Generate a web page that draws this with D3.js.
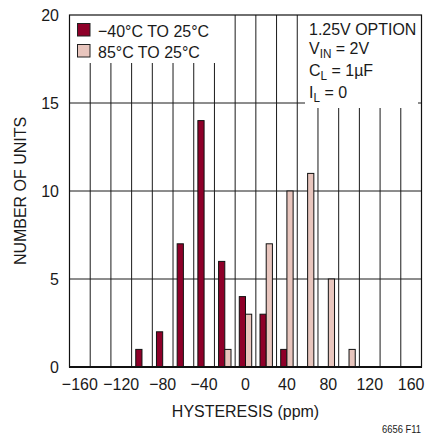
<!DOCTYPE html>
<html>
<head>
<meta charset="utf-8">
<script src="https://cdn.jsdelivr.net/npm/d3@7"></script>
<style>
html,body{margin:0;padding:0;background:#fff;}
svg{display:block;}
text{font-family:"Liberation Sans",Arial,Helvetica,sans-serif;fill:#1a1a1a;}
</style>
</head>
<body>
<div id="chart"></div>
<script>
// ---- data ----
const bins = [-100, -80, -60, -40, -20, 0, 20, 40, 60, 80, 100];
const coldValues = [1, 2, 7, 14, 6, 4, 3, 1, 0, 0, 0];   // -40°C TO 25°C
const hotValues  = [0, 0, 0, 0, 1, 3, 7, 10, 11, 5, 1];  // 85°C TO 25°C
const xTicks = [-160, -120, -80, -40, 0, 40, 80, 120, 160];
const yTicks = [0, 5, 10, 15, 20];
const binEdges = [-150, -130, -110, -90, -70, -50, -30, -10, 10, 30, 50, 70, 90, 110, 130, 150];
const seriesNames = ["\u221240\u00b0C TO 25\u00b0C", "85\u00b0C TO 25\u00b0C"];
const colors = ["#8e0029", "#e8c5bd"];

const W = 428, H = 437;
const SX = 0.94; // condensed look
const svg = d3.select("#chart").append("svg").attr("width", W).attr("height", H);

const x = d3.scaleLinear().domain([-170, 170]).range([69.5, 421.5]);
const y = d3.scaleLinear().domain([0, 20]).range([367, 15]);

function addText(parent, tx, ty, str, size, anchor, extra) {
  return parent.append("text")
    .attr("transform", `translate(${tx},${ty})${extra || ""} scale(${SX},1)`)
    .attr("text-anchor", anchor || "start")
    .attr("font-size", size + "px")
    .text(str);
}

const g = svg.append("g");

// grid lines
g.selectAll("line.vg").data(binEdges).enter().append("line")
  .attr("x1", d => x(d)).attr("x2", d => x(d))
  .attr("y1", y(0)).attr("y2", y(20))
  .attr("stroke", "#1a1a1a").attr("stroke-width", 1);
g.selectAll("line.hg").data(yTicks.filter(d => d > 0 && d < 20)).enter().append("line")
  .attr("x1", x(-170)).attr("x2", x(170))
  .attr("y1", d => y(d)).attr("y2", d => y(d))
  .attr("stroke", "#1a1a1a").attr("stroke-width", 1);

// bars
const bw = 6; // bar width in ppm
const cold = bins.map((b, i) => ({b, v: coldValues[i]})).filter(d => d.v > 0);
const hot = bins.map((b, i) => ({b, v: hotValues[i]})).filter(d => d.v > 0);
g.selectAll("rect.cold").data(cold).enter().append("rect")
  .attr("x", d => x(d.b - bw)).attr("width", d => x(d.b) - x(d.b - bw))
  .attr("y", d => y(d.v)).attr("height", d => y(0) - y(d.v))
  .attr("fill", colors[0]).attr("stroke", "#111").attr("stroke-width", 1);
g.selectAll("rect.hot").data(hot).enter().append("rect")
  .attr("x", d => x(d.b)).attr("width", d => x(d.b + bw) - x(d.b))
  .attr("y", d => y(d.v)).attr("height", d => y(0) - y(d.v))
  .attr("fill", colors[1]).attr("stroke", "#111").attr("stroke-width", 1);

// legend box (white)
g.append("rect").attr("x", x(-170)).attr("y", y(20)).attr("width", 153).attr("height", 48).attr("fill", "#fff");
seriesNames.forEach((name, i) => {
  const yy = 23.5 + i * 21;
  g.append("rect").attr("x", 77.5).attr("y", yy).attr("width", 12.5).attr("height", 12.5)
    .attr("fill", colors[i]).attr("stroke", "#222").attr("stroke-width", 1);
  addText(g, 98, yy + 13, name, 17);
});

// annotation box
g.append("rect").attr("x", 305).attr("y", y(20)).attr("width", 113).attr("height", 93).attr("fill", "#fff");
addText(g, 309, 35, "1.25V OPTION", 17);
function subText(yy, main, sub, rest) {
  const t = addText(g, 309, yy, "", 17);
  t.append("tspan").text(main);
  t.append("tspan").attr("font-size", "12.5px").attr("dy", 4).text(sub);
  t.append("tspan").attr("dy", -4).text(rest);
}
subText(54, "V", "IN", " = 2V");
subText(76, "C", "L", " = 1\u00b5F");
subText(98, "I", "L", " = 0");

// frame
g.append("rect").attr("x", x(-170)).attr("y", y(20)).attr("width", x(170) - x(-170)).attr("height", y(0) - y(20))
  .attr("fill", "none").attr("stroke", "#111").attr("stroke-width", 1.2);
g.append("line").attr("x1", x(-170) - 0.5).attr("x2", x(170) + 0.5).attr("y1", y(0)).attr("y2", y(0))
  .attr("stroke", "#111").attr("stroke-width", 2);

// axes labels
yTicks.forEach(d => addText(svg, 59, y(d) + 6, String(d), 17, "end"));
xTicks.forEach(d => addText(svg, x(d), 390, d < 0 ? "\u2212" + Math.abs(d) : String(d), 17, "middle"));

addText(svg, (x(-170) + x(170)) / 2, 417, "HYSTERESIS (ppm)", 17, "middle");
addText(svg, 26, (y(0) + y(20)) / 2, "NUMBER OF UNITS", 17, "middle", " rotate(-90)");
addText(svg, 421, 433, "6656 F11", 10, "end");
</script>
</body>
</html>
